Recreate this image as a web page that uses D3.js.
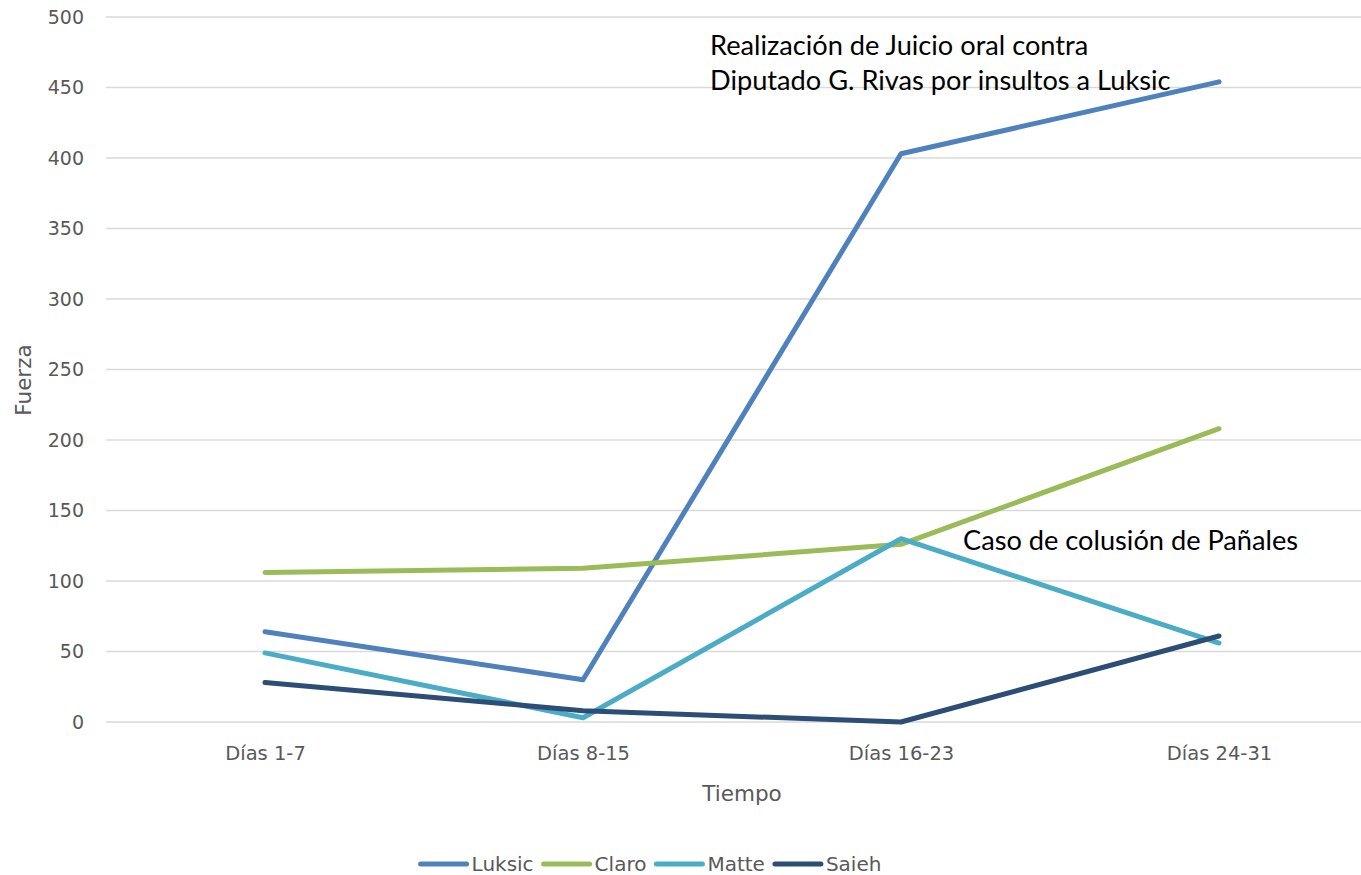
<!DOCTYPE html>
<html>
<head>
<meta charset="utf-8">
<script src="https://cdn.jsdelivr.net/npm/d3@7"></script>
<style>
  body { margin: 0; background: #fff; }
  svg { display: block; }
  svg text { font-family: "DejaVu Sans", "Open Sans", sans-serif; }
</style>
</head>
<body>
<svg id="main-svg"></svg>
<script>
const categories = ["Días 1-7", "Días 8-15", "Días 16-23", "Días 24-31"];
const luksic = [64, 30, 403, 454];
const claro = [106, 109, 126, 208];
const matte = [49, 3, 130, 56];
const saieh = [28, 8, 0, 61];
const seriesNames = ["Luksic", "Claro", "Matte", "Saieh"];
const seriesColors = ["#4f81bd", "#9bbb59", "#4bacc6", "#2c4d75"];
const yTicks = [0, 50, 100, 150, 200, 250, 300, 350, 400, 450, 500];

let width = 1361, height = 875;
let svg = d3.select('#main-svg').attr('width', width).attr('height', height);

let plot = {left: 106, right: 1378, top: 17, bottom: 722};

let x = d3.scalePoint().domain(categories).range([plot.left, plot.right]).padding(0.5);
let y = d3.scaleLinear().domain([0, 500]).range([plot.bottom, plot.top]);

// gridlines
svg.append('g')
  .selectAll('line')
  .data(yTicks)
  .enter()
  .append('line')
  .attr('x1', plot.left)
  .attr('x2', plot.right)
  .attr('y1', d => y(d))
  .attr('y2', d => y(d))
  .attr('stroke', '#d9d9d9')
  .attr('stroke-width', 1.3);

// y axis labels
let yAxis = svg.append('g')
  .attr('transform', `translate(${plot.left - 22},0)`)
  .call(d3.axisLeft(y).tickValues(yTicks).tickSize(0).tickPadding(0));
yAxis.attr('font-family', null).attr('font-size', null);
yAxis.select('.domain').remove();
yAxis.selectAll('text')
  .attr('fill', '#595959')
  .style('font-size', '19px');

// x axis labels
let xAxis = svg.append('g')
  .attr('transform', `translate(0,${plot.bottom + 20})`)
  .call(d3.axisBottom(x).tickSize(0).tickPadding(4));
xAxis.attr('font-family', null).attr('font-size', null);
xAxis.select('.domain').remove();
xAxis.selectAll('text')
  .attr('fill', '#595959')
  .style('font-size', '19.5px');

// axis titles
svg.append('text')
  .attr('x', 742).attr('y', 801)
  .attr('text-anchor', 'middle')
  .attr('fill', '#595959')
  .style('font-size', '21.5px')
  .text('Tiempo');

svg.append('text')
  .attr('transform', 'translate(31,380) rotate(-90)')
  .attr('text-anchor', 'middle')
  .attr('fill', '#595959')
  .style('font-size', '21.5px')
  .text('Fuerza');

// lines
let allSeries = [luksic, claro, matte, saieh];
let line = d3.line()
  .x((d, i) => x(categories[i]))
  .y(d => y(d));

svg.append('g')
  .selectAll('path')
  .data(allSeries)
  .enter()
  .append('path')
  .attr('d', d => line(d))
  .attr('fill', 'none')
  .attr('stroke', (d, i) => seriesColors[i])
  .attr('stroke-width', 5)
  .attr('stroke-linecap', 'round')
  .attr('stroke-linejoin', 'round');

// annotations
let annot = svg.append('g').attr('fill', '#000');
annot.selectAll('text').data([
  {x: 710, y: 55, t: 'Realización de Juicio oral contra'},
  {x: 710, y: 90, t: 'Diputado G. Rivas por insultos a Luksic'},
  {x: 963, y: 550, t: 'Caso de colusión de Pañales'}
]).enter()
  .append('text')
  .attr('x', d => d.x).attr('y', d => d.y)
  .style('font-family', 'Lato, "Liberation Sans", sans-serif')
  .style('font-size', '27.2px')
  .text(d => d.t);

// legend
let legend = svg.append('g');
let lx = 0;
seriesNames.forEach(function (name, i) {
  let g = legend.append('g').attr('transform', `translate(${lx},0)`);
  g.append('line')
    .attr('x1', 0).attr('x2', 46)
    .attr('stroke', seriesColors[i])
    .attr('stroke-width', 5)
    .attr('stroke-linecap', 'round');
  let t = g.append('text')
    .attr('x', 51).attr('y', 7)
    .attr('fill', '#595959')
    .style('font-size', '20px')
    .text(name);
  lx += 51 + t.node().getComputedTextLength() + (i < seriesNames.length - 1 ? 10 : 0);
});
legend.attr('transform', `translate(${651 - lx / 2},864)`);
</script>
</body>
</html>
